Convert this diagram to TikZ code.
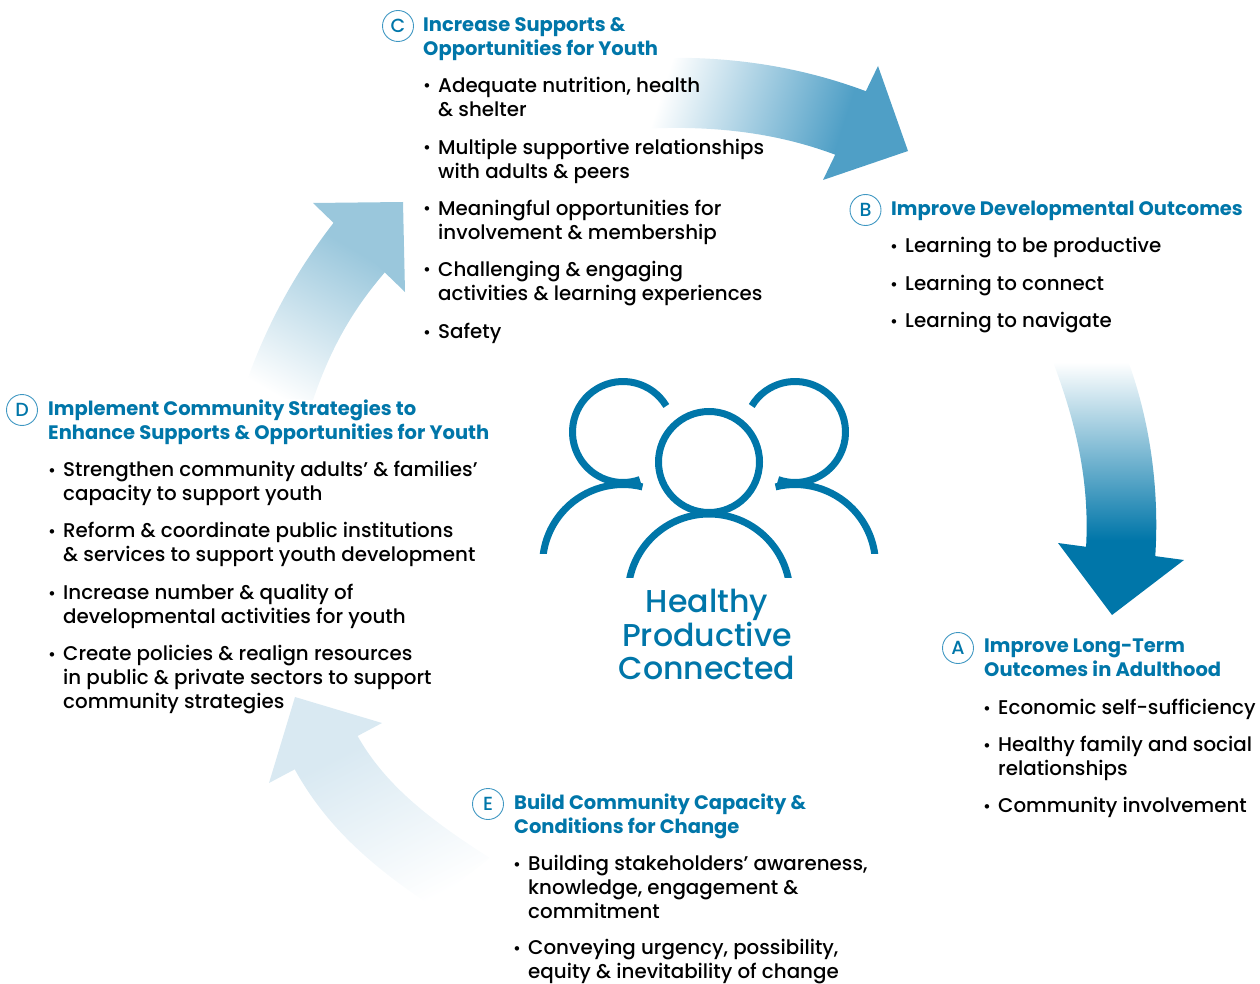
\documentclass[tikz,border=0pt]{standalone}
\usepackage{fontspec}
\setmainfont{Poppins}[UprightFont=* Medium,BoldFont=* Bold]
\definecolor{brand}{HTML}{0076A9}
\definecolor{ringc}{HTML}{3F97C2}
\definecolor{arrowcb}{HTML}{4F9FC6}
\definecolor{arrowba}{HTML}{0076A9}
\definecolor{arrowdc}{HTML}{9AC7DC}
\definecolor{arrowed}{HTML}{D9E9F2}
\pgfdeclareverticalshading{fadecb}{320pt}{color(0pt)=(white); color(183pt)=(arrowcb); color(260pt)=(arrowcb)}
\pgfdeclareverticalshading{fadeba}{320pt}{color(0pt)=(white); color(178pt)=(arrowba); color(260pt)=(arrowba)}
\pgfdeclareverticalshading{fadedc}{320pt}{color(0pt)=(white); color(165pt)=(arrowdc); color(260pt)=(arrowdc)}
\pgfdeclareverticalshading{fadeed}{320pt}{color(0pt)=(white); color(170pt)=(arrowed); color(260pt)=(arrowed)}
\newcommand{\BodySize}{\fontsize{19.85}{24}\selectfont}
\newcommand{\TitleSize}{\fontsize{19.5}{24}\selectfont}
\tikzset{
  bodytext/.style={anchor=north west,inner sep=0pt,align=left,text=black,font=\BodySize},
  titletext/.style={anchor=north west,inner sep=0pt,align=left,text=brand,font=\TitleSize\bfseries},
  bulletmark/.style={anchor=base,inner sep=0pt,font=\fontsize{17}{17}\selectfont},
  letterring/.style={circle,draw=ringc,line width=0.9pt,minimum size=31pt,inner sep=0pt,text=brand,font=\fontsize{19}{19}\selectfont},
  fadefill/.style={inner sep=0pt,anchor=south},
  iconline/.style={draw=brand,line width=7pt},
  centretext/.style={align=center,inner sep=0pt,text=brand,font=\fontsize{31.6}{33.5}\selectfont}
}
\newcommand{\Item}[4]{%
  \node[bulletmark] (#1b) at (#2-11,#3) {•};
  \node[bodytext] (#1) at (#2,#3-15) {\rule{0pt}{15pt}#4};}
\newcommand{\Title}[4]{\node[titletext] (#1) at (#2,#3-15) {\rule{0pt}{15pt}#4};}
\begin{document}
\begin{tikzpicture}[x=1pt,y=-1pt]
\useasboundingbox (0,0) rectangle (1260,984);
% arrow C to B
\begin{scope}
\clip (660,58) .. controls (735,56) and (805,68) .. (868,92) -- (836,155) .. controls (775,132) and (710,125) .. (640,129) -- cycle;
\node[fadefill,rotate=-108] (shadecb) at (661,93) {\pgfuseshading{fadecb}};
\end{scope}
\fill[arrowcb] (878,66) -- (908,151) -- (823,180) -- cycle;
% arrow B to A
\begin{scope}
\clip (1053,362) .. controls (1075,420) and (1090,480) .. (1086,548) -- (1155,560) .. controls (1160,490) and (1150,420) .. (1127,358) -- cycle;
\node[fadefill,rotate=180] (shadeba) at (1090,362) {\pgfuseshading{fadeba}};
\end{scope}
\fill[arrowba] (1058,543) -- (1184,560) -- (1112,615) -- cycle;
% arrow D to C
\begin{scope}
\clip (241,398) .. controls (263,330) and (295,272) .. (335,221) -- (386,271) .. controls (352,310) and (330,350) .. (313,400) -- cycle;
\node[fadefill,rotate=-30] (shadedc) at (279,397) {\pgfuseshading{fadedc}};
\end{scope}
\fill[arrowdc] (313,203) -- (403,202) -- (405,292) -- cycle;
% arrow E to D
\begin{scope}
\clip (357,735) .. controls (385,785) and (430,820) .. (490,858) -- (430,905) .. controls (370,865) and (325,825) .. (294,768) -- cycle;
\node[fadefill,rotate=27] (shadeed) at (450,890) {\pgfuseshading{fadeed}};
\end{scope}
\fill[arrowed] (295,697) -- (382,723) -- (269,783) -- cycle;
% people icon
\draw[iconline] (623,432) ++(31:50.5pt) arc[start angle=31,end angle=289.5,radius=50.5pt];
\draw[iconline] (795,432) ++(149:50.5pt) arc[start angle=149,end angle=-109.5,radius=50.5pt];
\draw[iconline] (709,462) circle[radius=50.5pt];
\begin{scope}
\clip (500,470) rectangle (920,553);
\draw[iconline] (623,565) ++(76:80.5pt) arc[start angle=76,end angle=178,radius=80.5pt];
\draw[iconline] (795,565) ++(104:80.5pt) arc[start angle=104,end angle=2,radius=80.5pt];
\end{scope}
\begin{scope}
\clip (600,500) rectangle (820,577);
\draw[iconline] (709,595) ++(178:81pt) arc[start angle=178,end angle=2,radius=81pt];
\end{scope}
\node[centretext] (centre) at (707,634.5) {Healthy\\Productive\\Connected};
% C
\node[letterring] (ringC) at (398,26) {C};
\Title{titleC}{423}{31}{Increase Supports \&\\Opportunities for Youth}
\Item{c1}{438}{92}{Adequate nutrition, health\\\& shelter}
\Item{c2}{438}{154}{Multiple supportive relationships\\with adults \& peers}
\Item{c3}{438}{215}{Meaningful opportunities for\\involvement \& membership}
\Item{c4}{438}{276}{Challenging \& engaging\\activities \& learning experiences}
\Item{c5}{438}{338}{Safety}
% B
\node[letterring] (ringB) at (865.5,210) {B};
\Title{titleB}{891}{215}{Improve Developmental Outcomes}
\Item{b1}{905}{252}{Learning to be productive}
\Item{b2}{905}{290}{Learning to connect}
\Item{b3}{905}{327}{Learning to navigate}
% A
\node[letterring] (ringA) at (958,648) {A};
\Title{titleA}{984}{652}{Improve Long-Term\\Outcomes in Adulthood}
\Item{a1}{998}{714}{Economic self-sufficiency}
\Item{a2}{998}{751}{Healthy family and social\\relationships}
\Item{a3}{998}{812}{Community involvement}
% D
\node[letterring] (ringD) at (22,410) {D};
\Title{titleD}{48}{415}{Implement Community Strategies to\\Enhance Supports \& Opportunities for Youth}
\Item{d1}{63}{476}{Strengthen community adults’ \& families’\\capacity to support youth}
\Item{d2}{63}{537}{Reform \& coordinate public institutions\\\& services to support youth development}
\Item{d3}{63}{599}{Increase number \& quality of\\developmental activities for youth}
\Item{d4}{63}{660}{Create policies \& realign resources\\in public \& private sectors to support\\community strategies}
% E
\node[letterring] (ringE) at (488,804) {E};
\Title{titleE}{514}{809}{Build Community Capacity \&\\Conditions for Change}
\Item{e1}{528}{870}{Building stakeholders’ awareness,\\knowledge, engagement \&\\commitment}
\Item{e2}{528}{954.5}{Conveying urgency, possibility,\\equity \& inevitability of change}
\end{tikzpicture}
\end{document}
